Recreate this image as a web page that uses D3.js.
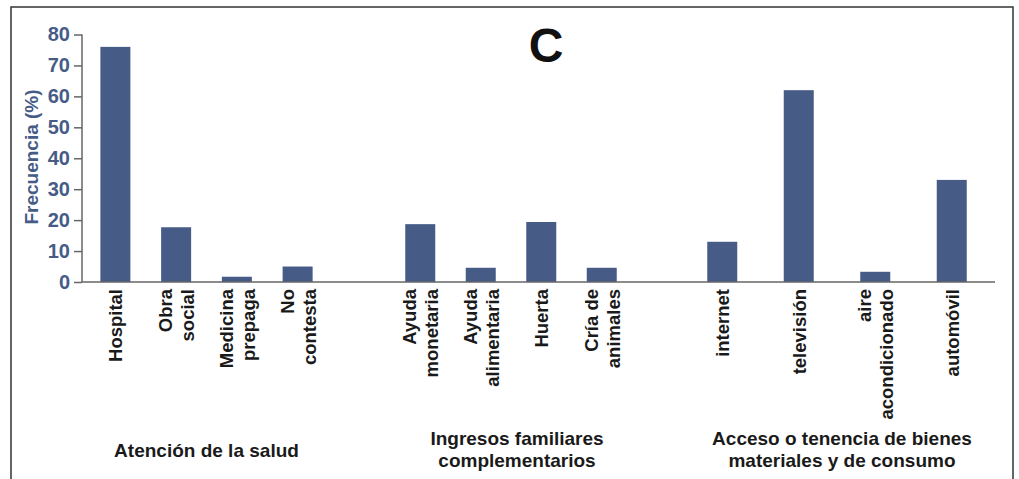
<!DOCTYPE html>
<html>
<head>
<meta charset="utf-8">
<script src="https://cdn.jsdelivr.net/npm/d3@7.9.0/dist/d3.min.js"></script>
<style>
  body { margin: 0; background: #fff; }
  svg { display: block; font-family: "Liberation Sans", Arial, sans-serif; }
</style>
</head>
<body>
<svg id="chart" width="1019" height="479"></svg>
<script>
// data
const groups = ['salud', 'ingresos', 'bienes'];
const groupLabels = [
  ['Atención de la salud'],
  ['Ingresos familiares', 'complementarios'],
  ['Acceso o tenencia de bienes', 'materiales y de consumo']
];
const saludCats = [['Hospital'], ['Obra', 'social'], ['Medicina', 'prepaga'], ['No', 'contesta']];
const saludVals = [76, 17.7, 1.7, 5];
const ingresosCats = [['Ayuda', 'monetaria'], ['Ayuda', 'alimentaria'], ['Huerta'], ['Cría de', 'animales']];
const ingresosVals = [18.7, 4.6, 19.4, 4.6];
const bienesCats = [['internet'], ['televisión'], ['aire', 'acondicionado'], ['automóvil']];
const bienesVals = [13, 62, 3.3, 33];
const yTicks = [0, 10, 20, 30, 40, 50, 60, 70, 80];

const blue = '#465c87';
const svg = d3.select('#chart');

// frame
svg.append('path')
  .attr('d', 'M11,490 V7 H1013 V490')
  .attr('fill', 'none')
  .attr('stroke', '#333')
  .attr('stroke-width', 1.5);

const y = d3.scaleLinear().domain([0, 80]).range([282, 34.5]);
const x0 = 82, x1 = 995;

// each group gets its own band scale
const groupData = [
  { cats: saludCats, vals: saludVals, range: [85, 328] },
  { cats: ingresosCats, vals: ingresosVals, range: [390, 632] },
  { cats: bienesCats, vals: bienesVals, range: [684, 990] }
];

groupData.forEach((g, gi) => {
  const band = d3.scaleBand()
    .domain(d3.range(g.cats.length))
    .range(g.range)
    .paddingInner(0.5)
    .paddingOuter(0.25);
  const bw = 30;

  svg.append('g').selectAll('rect')
    .data(g.vals)
    .join('rect')
    .attr('x', (d, i) => band(i) + band.bandwidth() / 2 - bw / 2)
    .attr('y', d => y(d))
    .attr('width', bw)
    .attr('height', d => y(0) - y(d))
    .attr('fill', blue);

  // rotated category labels
  g.cats.forEach((lines, i) => {
    const cx = band(i) + band.bandwidth() / 2;
    lines.forEach((t, li) => {
      const off = (li - (lines.length - 1) / 2) * 22;
      svg.append('text')
        .attr('transform', `translate(${cx + off + 7},289) rotate(-90)`)
        .attr('text-anchor', 'end')
        .attr('font-size', 18.5)
        .attr('font-weight', 'bold')
        .attr('fill', '#1a1a1a')
        .text(t);
    });
  });

  // group label
  const gc = (g.range[0] + g.range[1]) / 2 + (gi === 1 ? 6 : gi === 2 ? 5 : 0);
  const gl = groupLabels[gi];
  gl.forEach((t, li) => {
    svg.append('text')
      .attr('x', gc)
      .attr('y', gl.length === 1 ? 457 : 445 + li * 22)
      .attr('text-anchor', 'middle')
      .attr('font-size', 19)
      .attr('font-weight', 'bold')
      .attr('fill', '#1a1a1a')
      .text(t);
  });
});

// y axis
const yAxis = svg.append('g')
  .attr('transform', `translate(${x0},0)`)
  .call(d3.axisLeft(y).tickValues(yTicks).tickSize(8).tickPadding(4));
yAxis.select('.domain').attr('stroke', '#666').attr('stroke-width', 1.5).attr('d', `M0,${y(80)}V${y(0)}`);
yAxis.selectAll('.tick line').attr('stroke', '#666').attr('stroke-width', 1.5);
yAxis.selectAll('.tick text')
  .attr('fill', blue)
  .attr('font-size', 20)
  .attr('font-weight', 'bold')
  .attr('font-family', '"Liberation Sans", Arial, sans-serif');

// x axis baseline
svg.append('line')
  .attr('x1', x0).attr('x2', x1)
  .attr('y1', y(0)).attr('y2', y(0))
  .attr('stroke', '#666')
  .attr('stroke-width', 1.5);

// y label
svg.append('text')
  .attr('transform', 'translate(38,157) rotate(-90)')
  .attr('text-anchor', 'middle')
  .attr('font-size', 19)
  .attr('font-weight', 'bold')
  .attr('fill', blue)
  .text('Frecuencia (%)');

// panel letter
svg.append('text')
  .attr('x', 546)
  .attr('y', 62)
  .attr('text-anchor', 'middle')
  .attr('font-size', 48)
  .attr('font-weight', 'bold')
  .attr('fill', '#111')
  .text('C');
</script>
</body>
</html>
